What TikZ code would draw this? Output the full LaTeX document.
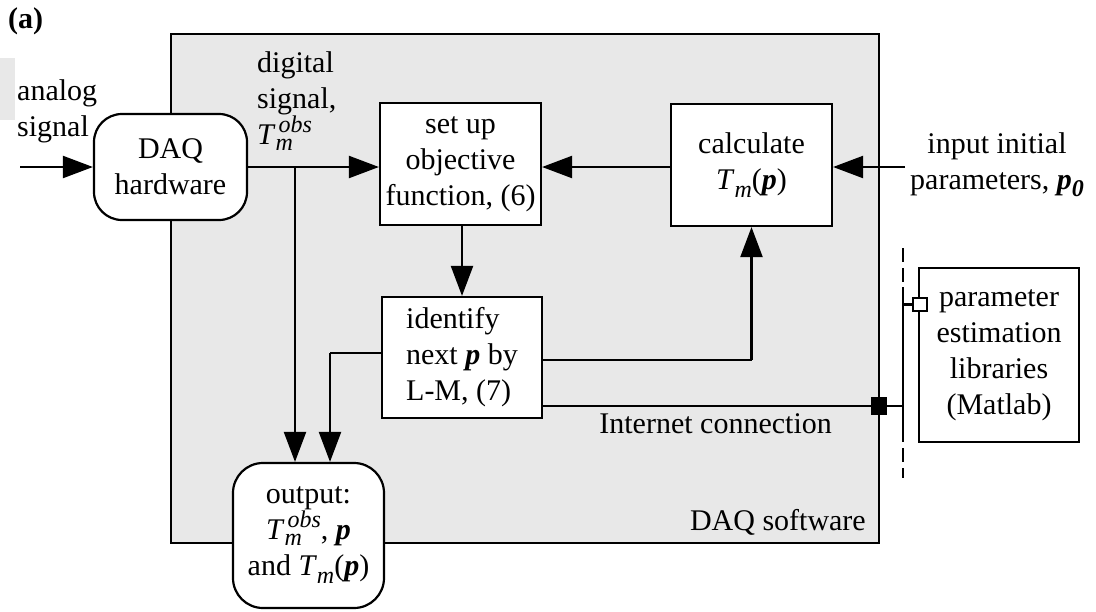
\documentclass[tikz,border=0pt]{standalone}
\usepackage{fontspec}
\setmainfont{Liberation Serif}
\usetikzlibrary{arrows.meta}

\definecolor{panel}{RGB}{232,232,232}

% italic quantities used in the labels, with hand-set scripts
\newcommand\scr{\fontsize{24}{24}\selectfont}
\newcommand\bp{\textbf{\textit{p}}}
\newcommand\Tobs{\textit{T}\rlap{\raisebox{-6pt}{\scr\textit{m}}}\kern3pt\raisebox{12pt}{\scr\textit{obs}}}
\newcommand\Tmp{\textit{T}\raisebox{-8pt}{\scr\textit{m}}(\bp)}
\newcommand\pzero{\bp\raisebox{-7pt}{\scr\textbf{\textit{0}}}}

\tikzset{
  every node/.style={font=\fontsize{30}{36}\selectfont, inner sep=0pt},
  blockbox/.style={draw, fill=white, line width=2.2pt, align=center},
  roundbox/.style={blockbox, rounded corners=28pt},
  wire/.style={line width=2.2pt},
  flow/.style={wire, -{Triangle[length=30pt,width=22pt]}},
}

\begin{document}
\begin{tikzpicture}[x=1pt, y=-1pt]
\useasboundingbox (0,0) rectangle (1096,611);

% software panel and the small shaded patch at the left margin
\fill[panel] (0,58) rectangle (15,120);
\filldraw[fill=panel, draw=black, line width=2.2pt] (171,34) rectangle (879,543);

% blocks
\node[roundbox, minimum width=153pt, minimum height=106pt] (daq) at (170.5,167) {DAQ\\hardware};
\node[blockbox, minimum width=161pt, minimum height=122pt] (setup) at (460.5,164) {set up\\objective\\function, (6)};
\node[blockbox, minimum width=161pt, minimum height=122pt] (calc) at (751.5,165) {calculate\\\Tmp};
\node[blockbox, minimum width=160pt, minimum height=121pt, align=left] (ident) at (462,357.5) {identify\\next \bp{} by\\L-M, (7)};
\node[roundbox, rounded corners=30pt, minimum width=151pt, minimum height=145pt] (out) at (308.5,535.5) {output:\\\Tobs, \bp\\and \Tmp};
\node[blockbox, minimum width=160pt, minimum height=174pt] (lib) at (999,355) {parameter\\estimation\\libraries\\(Matlab)};

% labels
\node[anchor=base west, font=\fontsize{30}{36}\selectfont\bfseries] (lbl) at (8,28) {(a)};
\node[anchor=north west, align=left] (analog) at (17,79) {analog\\signal};
\node[anchor=north west, align=left] (digital) at (257,51) {digital\\signal,\\\Tobs};
\node[anchor=north, align=center] (pinit) at (997,132) {input initial\\parameters, \pzero};
\node[anchor=base east] (net) at (832,433) {Internet connection};
\node[anchor=base east] (soft) at (866,530) {DAQ software};

% junctions and free ends
\coordinate (ain) at (20,167);
\coordinate (pin) at (905,167);
\coordinate (j1) at (295,167);
\coordinate (j2) at (330,353);
\coordinate (j3) at (751.5,360);
\coordinate (busin) at (903,406);
\coordinate (bustop) at (903,248);
\coordinate (busbot) at (903,478);
\coordinate (solidtop) at (903,287);
\coordinate (solidbot) at (903,438);
\coordinate (libtap) at (903,304.5);

% signal flow
\draw[flow] (ain) -- (daq.west |- ain);
\draw[flow] (daq.east |- ain) -- (setup.west |- ain);
\draw[flow] (j1) -- (j1 |- out.north);
\draw[flow] (calc.west |- ain) -- (setup.east |- ain);
\draw[flow] (pin) -- (calc.east |- pin);
\draw[flow] (setup.south -| ident.north) -- (ident.north);
\draw[wire] (ident.west |- j2) -- (j2);
\draw[flow] (j2) -- (j2 |- out.north);
\draw[wire] (ident.east |- j3) -- (j3);
\draw[flow] (j3) -- (calc.south);

% network link to the remote libraries
\draw[wire] (ident.east |- busin) -- (busin);
\draw[wire, dash pattern=on 14pt off 6pt] (bustop) -- (busbot);
\draw[wire] (solidtop) -- (solidbot);
\node[fill=black, minimum width=16pt, minimum height=18pt] (port) at (879,406) {};
\node[draw, fill=white, line width=1.8pt, minimum width=14pt, minimum height=13pt] (libport) at (920,304.5) {};
\draw[wire] (libtap) -- (libport.west);
\end{tikzpicture}
\end{document}
